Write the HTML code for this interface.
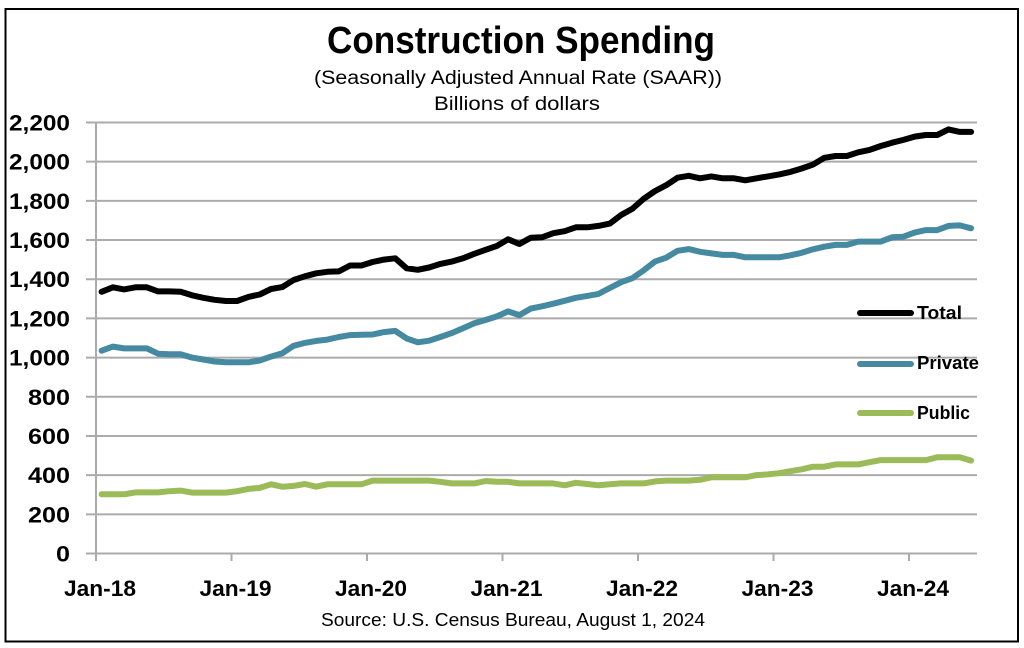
<!DOCTYPE html>
<html>
<head>
<meta charset="utf-8">
<style>
  html,body{margin:0;padding:0;background:#fff;}
  svg{display:block;}
  text{font-family:"Liberation Sans",Arial,sans-serif;}
</style>
</head>
<body>
<svg id="c" width="1024" height="648" viewBox="0 0 1024 648" xmlns="http://www.w3.org/2000/svg">
  <rect x="0" y="0" width="1024" height="648" fill="#fff"/>
  <rect x="5.5" y="9" width="1012.5" height="632.5" fill="none" stroke="#000" stroke-width="2"/>

  <text x="521" y="53" text-anchor="middle" font-size="38" font-weight="bold" textLength="388" lengthAdjust="spacingAndGlyphs">Construction  Spending</text>
  <text x="518" y="84" text-anchor="middle" font-size="19" textLength="408" lengthAdjust="spacingAndGlyphs">(Seasonally Adjusted Annual Rate (SAAR))</text>
  <text x="517" y="110" text-anchor="middle" font-size="19" textLength="166" lengthAdjust="spacingAndGlyphs">Billions of dollars</text>

  <g id="grid" stroke="#ababab" stroke-width="2"></g>
  <g id="ylab" font-size="22" font-weight="bold" text-anchor="end"></g>
  <g id="xlab" font-size="22" font-weight="bold" text-anchor="middle"></g>
  <g id="series" fill="none" stroke-linejoin="round" stroke-linecap="round"></g>

  <g stroke-width="6" stroke-linecap="round">
    <line x1="860" y1="313" x2="911" y2="313" stroke="#000"/>
    <line x1="860" y1="364" x2="911" y2="364" stroke="#468aa2"/>
    <line x1="860" y1="413" x2="911" y2="413" stroke="#9bbb59"/>
  </g>
  <g font-size="18" font-weight="bold">
    <text x="917" y="319" textLength="45" lengthAdjust="spacingAndGlyphs">Total</text>
    <text x="917" y="369" textLength="62" lengthAdjust="spacingAndGlyphs">Private</text>
    <text x="917" y="419" textLength="53" lengthAdjust="spacingAndGlyphs">Public</text>
  </g>

  <text x="513" y="626" text-anchor="middle" font-size="18" textLength="384" lengthAdjust="spacingAndGlyphs">Source: U.S. Census Bureau, August 1, 2024</text>
</svg>
<script>
(function(){
  var NS="http://www.w3.org/2000/svg";
  var y0=553.5, y2200=122.5, k=(y0-y2200)/2200;
  function Y(v){return y0-v*k;}
  var x0=96, mw=135.5/12;
  function X(i){return x0+(i+0.5)*mw;}
  var grid=document.getElementById('grid');
  var ylab=document.getElementById('ylab');
  var labels=["0","200","400","600","800","1,000","1,200","1,400","1,600","1,800","2,000","2,200"];
  for(var g=0;g<=11;g++){
    var y=Y(g*200);
    var l=document.createElementNS(NS,'line');
    l.setAttribute('x1',86);l.setAttribute('x2',977);
    l.setAttribute('y1',y);l.setAttribute('y2',y);
    grid.appendChild(l);
    var t=document.createElementNS(NS,'text');
    t.setAttribute('x',70);t.setAttribute('y',y+8);
    var s=labels[g];
    var w=0;
    for(var c=0;c<s.length;c++){w+=(s[c]===','?5:14);}
    t.setAttribute('textLength',w);t.setAttribute('lengthAdjust','spacingAndGlyphs');
    t.textContent=s;ylab.appendChild(t);
  }
  var ax=document.createElementNS(NS,'line');
  ax.setAttribute('x1',96);ax.setAttribute('x2',96);ax.setAttribute('y1',Y(2200));ax.setAttribute('y2',y0);
  grid.appendChild(ax);
  var xlab=document.getElementById('xlab');
  var yrs=["Jan-18","Jan-19","Jan-20","Jan-21","Jan-22","Jan-23","Jan-24"];
  for(var j=0;j<7;j++){
    var x=x0+j*135.5;
    var tk=document.createElementNS(NS,'line');
    tk.setAttribute('x1',x);tk.setAttribute('x2',x);tk.setAttribute('y1',y0);tk.setAttribute('y2',561);
    grid.appendChild(tk);
    var t2=document.createElementNS(NS,'text');
    t2.setAttribute('x',x+4);t2.setAttribute('y',596);
    t2.setAttribute('textLength',72);t2.setAttribute('lengthAdjust','spacingAndGlyphs');
    t2.textContent=yrs[j];xlab.appendChild(t2);
  }
  var total=[1336,1359,1348,1359,1359,1338,1338,1336,1318,1305,1295,1289,
    1289,1310,1322,1350,1360,1396,1415,1430,1438,1440,1470,1470,
    1488,1500,1507,1456,1448,1460,1478,1490,1507,1530,1550,1570,
    1604,1580,1612,1614,1635,1645,1665,1665,1672,1684,1728,1760,
    1810,1850,1880,1918,1928,1915,1925,1915,1915,1905,1915,1925,
    1935,1948,1965,1985,2020,2029,2029,2048,2060,2080,2097,2111,
    2128,2136,2136,2165,2152,2152];
  var priv=[1035,1056,1047,1047,1047,1020,1017,1017,1000,990,980,976,
    976,976,985,1005,1022,1060,1075,1085,1092,1105,1115,1117,
    1118,1130,1136,1098,1078,1086,1105,1125,1150,1175,1192,1210,
    1236,1217,1250,1262,1275,1290,1305,1315,1325,1355,1385,1405,
    1445,1490,1510,1545,1554,1540,1532,1524,1524,1512,1512,1512,
    1512,1522,1535,1553,1566,1575,1575,1592,1592,1592,1614,1617,
    1638,1651,1651,1672,1675,1660];
  var pub=[302,302,302,312,312,312,318,321,311,311,311,311,
    318,330,335,353,341,345,355,341,353,353,353,353,
    372,372,372,372,372,372,366,358,358,358,370,366,
    366,358,358,358,358,348,361,355,348,353,358,358,
    358,368,372,372,372,376,389,389,389,389,400,404,
    410,420,430,443,443,455,455,455,466,477,477,477,
    477,477,491,491,491,474];
  var ser=document.getElementById('series');
  function draw(d,col){
    var p=[];
    for(var i=0;i<d.length;i++)p.push(X(i).toFixed(1)+','+Y(d[i]).toFixed(1));
    var pl=document.createElementNS(NS,'polyline');
    pl.setAttribute('points',p.join(' '));
    pl.setAttribute('stroke',col);pl.setAttribute('stroke-width',6);
    ser.appendChild(pl);
  }
  draw(pub,'#9bbb59');
  draw(priv,'#468aa2');
  draw(total,'#000');
})();
</script>
</body>
</html>
